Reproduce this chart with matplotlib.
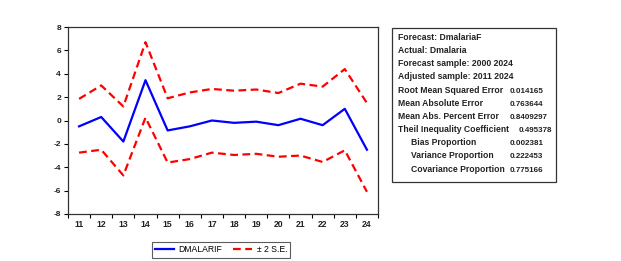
import matplotlib
matplotlib.use("Agg")
import matplotlib.pyplot as plt
from matplotlib.patches import Rectangle

plt.rcParams['font.family'] = ['Liberation Sans', 'DejaVu Sans']

years = [11, 12, 13, 14, 15, 16, 17, 18, 19, 20, 21, 22, 23, 24]
forecast = [-0.5, 0.3, -1.8, 3.45, -0.85, -0.5, 0.0, -0.2, -0.1, -0.4, 0.15, -0.4, 1.0, -2.5]
upper = [1.85, 3.0, 1.2, 6.7, 1.9, 2.4, 2.7, 2.55, 2.65, 2.35, 3.15, 2.9, 4.4, 1.5]
lower = [-2.75, -2.5, -4.7, 0.25, -3.6, -3.3, -2.75, -2.95, -2.85, -3.1, -3.0, -3.55, -2.55, -6.1]
yticks = [-8, -6, -4, -2, 0, 2, 4, 6, 8]

stats_labels = ["Forecast: DmalariaF", "Actual: Dmalaria", "Forecast sample: 2000 2024",
                "Adjusted sample: 2011 2024", "Root Mean Squared Error", "Mean Absolute Error",
                "Mean Abs. Percent Error", "Theil Inequality Coefficient", "Bias Proportion",
                "Variance Proportion", "Covariance Proportion"]
stats_values = ["", "", "", "", "0.014165", "0.763644", "0.8409297", "0.495378",
                "0.002381", "0.222453", "0.775166"]

W, H = 621, 261
fig = plt.figure(figsize=(W / 100, H / 100), dpi=100)

ax_l, ax_r, ax_t, ax_b = 68, 378, 27, 214
ax = fig.add_axes([ax_l / W, 1 - ax_b / H, (ax_r - ax_l) / W, (ax_b - ax_t) / H])
x = list(range(len(years)))
l1, = ax.plot(x, forecast, color='#0000ff', lw=1.6)
l2, = ax.plot(x, upper, color='#ff0000', lw=1.6, ls=(0, (3.5, 2)))
ax.plot(x, lower, color='#ff0000', lw=1.6, ls=(0, (3.5, 2)))
ax.set_xlim(-0.5, len(years) - 0.5)
ax.set_ylim(-8, 8)
ax.set_yticks(yticks)
ax.set_yticklabels([str(v) for v in yticks], fontsize=6, fontweight='bold', color='#222222')
ax.set_xticks([i - 0.5 for i in range(len(years) + 1)])
ax.set_xticklabels([])
ax.set_xticks(x, minor=True)
ax.set_xticklabels([str(y) for y in years], minor=True, fontsize=6.2, fontweight='bold', color='#222222')
ax.tick_params(axis='x', which='minor', length=0, pad=4)
ax.tick_params(axis='x', which='major', length=3, width=0.8, direction='out')
ax.tick_params(axis='y', length=3, width=0.8, direction='out', pad=2)
for s in ax.spines.values():
    s.set_linewidth(0.9)
    s.set_color('#333333')

# statistics box
bl, br, bt, bb = 392, 556, 28, 182
fig.patches.append(Rectangle((bl / W, 1 - bb / H), (br - bl) / W, (bb - bt) / H,
                             transform=fig.transFigure, fill=False, lw=0.9, ec='#333333'))
val_x = [0, 0, 0, 0, 509.5, 509.5, 509.5, 519, 509.5, 509.5, 509.5]
for i, (lab, val) in enumerate(zip(stats_labels, stats_values)):
    yy = 40 + i * 13.15
    xx = 410.5 if i >= 8 else 397.5
    fig.text(xx / W, 1 - yy / H, lab, fontsize=6.2, fontweight='bold', color='#222222', va='baseline')
    if val:
        fig.text(val_x[i] / W, 1 - yy / H, val, fontsize=5.8, fontweight='bold', color='#222222', va='baseline')

leg = fig.legend([l1, l2], ["DMALARIF", "± 2 S.E."], loc='center',
                 bbox_to_anchor=(221 / W, 1 - 250 / H), ncol=2, fontsize=6.2,
                 frameon=True, fancybox=False, edgecolor='#333333', handlelength=2.2,
                 handletextpad=0.6, columnspacing=1.2, borderpad=0.35)
leg.get_frame().set_linewidth(0.8)

fig.savefig("out.png", dpi=100)
